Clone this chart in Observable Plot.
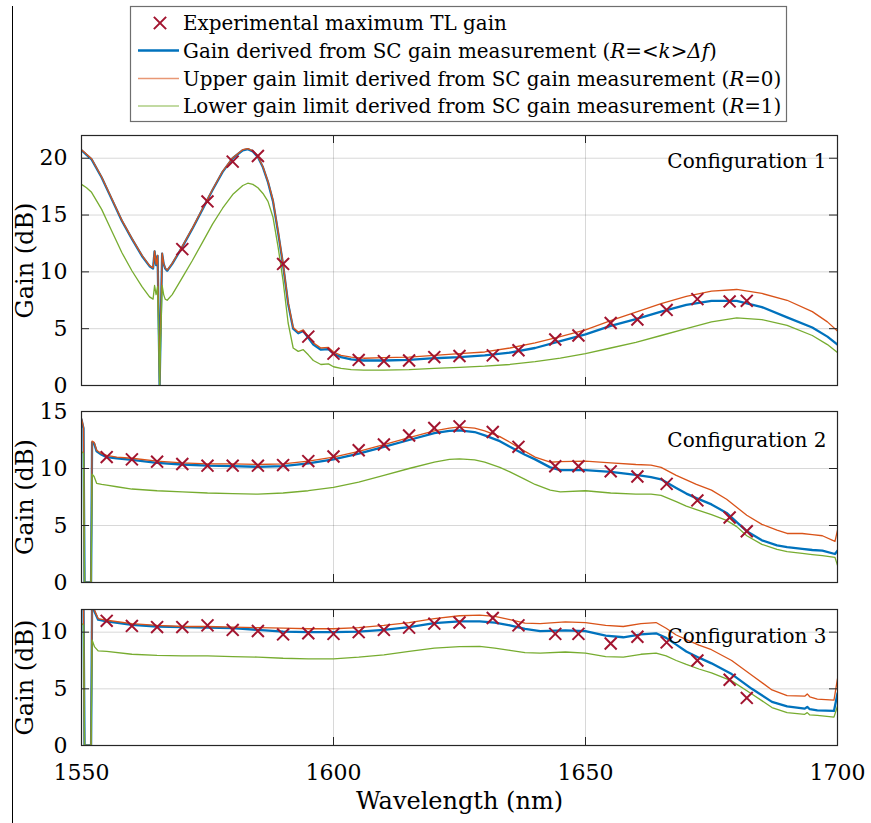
<!DOCTYPE html>
<html><head><meta charset="utf-8">
<script src="https://cdn.jsdelivr.net/npm/d3@7"></script>
<script src="https://cdn.jsdelivr.net/npm/@observablehq/plot@0.6"></script>
<style>
body{margin:0;background:#fff;}
#root{position:relative;width:871px;height:823px;overflow:hidden;background:#fff;font-family:"DejaVu Serif",serif;}
#root > *{position:absolute;}
svg{overflow:visible;}
</style></head><body><div id="root"></div>
<script>
// ---------- data ----------
const xTickLabels = [1550, 1600, 1650, 1700];
const seriesNames = [
  "Experimental maximum TL gain",
  "Gain derived from SC gain measurement",
  "Upper gain limit derived from SC gain measurement",
  "Lower gain limit derived from SC gain measurement"
];
const configNames = ["Configuration 1", "Configuration 2", "Configuration 3"];
const xTitle = "Wavelength (nm)";
const yTitle = "Gain (dB)";

// Experimental maximum TL gain (crosses)
const tlWl = [1555, 1560, 1565, 1570, 1575, 1580, 1585, 1590, 1595, 1600, 1605, 1610, 1615, 1620, 1625, 1631.6, 1636.7, 1644, 1648.6, 1655, 1660.3, 1666.1, 1672.2, 1678.6, 1682];
const tlGain1 = [null, null, null, 12.0, 16.2, 19.7, 20.2, 10.7, 4.3, 2.8, 2.25, 2.15, 2.2, 2.5, 2.6, 2.65, 3.1, 4.05, 4.4, 5.5, 5.8, 6.65, 7.6, 7.4, 7.45];
const tlGain2 = [11.0, 10.8, 10.6, 10.4, 10.25, 10.25, 10.25, 10.3, 10.65, 11.05, 11.6, 12.1, 12.9, 13.55, 13.7, 13.2, 11.9, 10.2, 10.2, 9.75, 9.3, 8.65, 7.2, 5.7, 4.5];
const tlGain3 = [11.0, 10.55, 10.45, 10.45, 10.6, 10.2, 10.1, 9.8, 9.9, 9.85, 10.0, 10.2, 10.4, 10.75, 10.85, 11.25, 10.6, 9.85, 9.85, 9.0, 9.6, 9.1, 7.5, 5.8, 4.2];

// Configuration 1
const wl1 = [1550, 1551, 1552, 1554, 1556, 1558, 1560, 1562, 1563.5, 1564.2,
  1564.5, 1564.8, 1565.1, 1565.3, 1565.5, 1565.7, 1566.0, 1566.3, 1566.6, 1567,
  1568, 1570, 1572, 1574, 1576, 1578, 1580, 1582, 1583, 1584,
  1585, 1586, 1587, 1588, 1589, 1590, 1591, 1592, 1593, 1594,
  1595, 1596, 1597.5, 1599, 1600, 1601.5, 1603.5, 1606, 1610, 1615,
  1620, 1625, 1630, 1635, 1640, 1645, 1650, 1655, 1660, 1665,
  1670, 1675, 1680, 1685, 1690, 1695, 1698, 1700];
const blue1 = [20.7, 20.3, 19.9, 18.3, 16.4, 14.5, 12.9, 11.4, 10.5, 10.3,
  11.8, 10.6, 11.4, 6.0, 0, 5.0, 11.6, 10.7, 10.3, 10.1,
  10.7, 12.2, 13.8, 15.5, 17.2, 18.8, 20.0, 20.7, 20.8, 20.6,
  20.1, 19.2, 17.9, 16.2, 13.5, 10.6, 7.2, 5.0, 4.6, 4.8,
  4.2, 3.6, 3.15, 3.2, 2.8, 2.5, 2.3, 2.2, 2.2, 2.25,
  2.4, 2.5, 2.65, 2.9, 3.3, 3.9, 4.5, 5.25, 5.85, 6.5,
  7.1, 7.45, 7.45, 6.9, 6.0, 5.1, 4.3, 3.6];
const orange1 = [20.75, 20.35, 19.95, 18.35, 16.45, 14.55, 12.95, 11.45, 10.55, 10.35,
  11.85, 10.65, 11.45, 6.0, 0, 5.0, 11.65, 10.75, 10.35, 10.15,
  10.75, 12.25, 13.85, 15.55, 17.25, 18.85, 20.05, 20.75, 20.85, 20.65,
  20.15, 19.25, 17.95, 16.3, 13.6, 10.7, 7.3, 5.1, 4.7, 4.9,
  4.3, 3.75, 3.3, 3.35, 2.95, 2.65, 2.5, 2.4, 2.45, 2.5,
  2.65, 2.8, 2.95, 3.3, 3.75, 4.3, 4.9, 5.7, 6.45, 7.2,
  7.85, 8.3, 8.45, 8.1, 7.5, 6.5, 5.6, 4.8];
const green1 = [17.7, 17.4, 17.0, 15.5, 13.6, 11.7, 10.1, 8.7, 7.8, 7.6,
  8.8, 8.0, 8.7, 4.5, 0, 4.0, 8.8, 8.0, 7.6, 7.5,
  8.0, 9.5, 11.0, 12.6, 14.2, 15.6, 16.8, 17.6, 17.8, 17.7,
  17.4, 16.9, 16.2, 14.8, 12.2, 9.2, 5.5, 3.3, 3.0, 3.15,
  2.7, 2.2, 1.85, 1.9, 1.65, 1.5, 1.4, 1.35, 1.35, 1.4,
  1.5, 1.6, 1.7, 1.85, 2.1, 2.4, 2.8, 3.3, 3.8, 4.4,
  5.0, 5.6, 5.95, 5.8, 5.3, 4.4, 3.6, 2.9];

// Configuration 2
const wl2 = [1550, 1550.4, 1550.6, 1551.9, 1552.1, 1552.5, 1553, 1554, 1555, 1557,
  1560, 1565, 1570, 1575, 1580, 1585, 1590, 1595, 1600, 1605,
  1610, 1615, 1620, 1623, 1625, 1628, 1630, 1633, 1635, 1638,
  1640, 1643, 1645, 1650, 1655, 1660, 1663, 1665, 1668, 1670,
  1672, 1675, 1678, 1680, 1682, 1685, 1688, 1690, 1693, 1695,
  1697, 1699.5, 1700];
const blue2 = [14.3, 13.5, 0, 0, 12.3, 12.2, 11.5, 11.2, 11.0, 10.9,
  10.75, 10.5, 10.35, 10.25, 10.2, 10.15, 10.2, 10.45, 10.8, 11.3,
  11.9, 12.5, 13.1, 13.3, 13.35, 13.2, 12.9, 12.4, 11.9, 11.2,
  10.8, 10.1, 9.85, 9.85, 9.7, 9.45, 9.25, 9.05, 8.3, 7.8,
  7.4, 6.85, 6.1, 5.3, 4.5, 3.7, 3.25, 3.1, 2.95, 2.85,
  2.8, 2.5, 2.8];
const orange2 = [14.4, 13.6, 0, 0, 12.4, 12.3, 11.6, 11.3, 11.15, 11.0,
  10.9, 10.65, 10.5, 10.4, 10.4, 10.35, 10.4, 10.65, 11.0, 11.5,
  12.1, 12.7, 13.3, 13.55, 13.65, 13.55, 13.3, 12.8, 12.3, 11.5,
  11.0, 10.55, 10.6, 10.65, 10.5, 10.35, 10.3, 10.1, 9.4, 9.0,
  8.6, 8.1, 7.3, 6.6, 5.9, 5.1, 4.6, 4.3, 4.3, 4.2,
  4.1, 3.6, 4.6];
const green2 = [11.5, 11.3, 0, 0, 9.5, 9.3, 8.7, 8.6, 8.55, 8.4,
  8.2, 8.05, 7.95, 7.85, 7.8, 7.75, 7.85, 8.05, 8.35, 8.8,
  9.4, 10.0, 10.55, 10.8, 10.85, 10.75, 10.55, 10.1, 9.7, 9.05,
  8.6, 8.1, 7.95, 8.05, 7.85, 7.75, 7.75, 7.65, 7.1, 6.7,
  6.4, 5.95, 5.45, 4.9, 4.1, 3.35, 2.9, 2.7, 2.55, 2.45,
  2.35, 2.2, 1.5];

// Configuration 3
const wl3 = [1550, 1550.4, 1550.6, 1551.9, 1552.1, 1552.6, 1553.3, 1555, 1560, 1565,
  1570, 1575, 1580, 1585, 1590, 1595, 1600, 1605, 1610, 1615,
  1620, 1625, 1629, 1632, 1635, 1638, 1641, 1646, 1650, 1654,
  1657.5, 1661, 1664, 1666, 1668, 1670, 1672.5, 1675, 1679, 1683,
  1687, 1690, 1693.5, 1694, 1694.5, 1696, 1699.3, 1700];
const blue3 = [12.5, 12.5, 0, 0, 12.5, 11.8, 11.1, 10.95, 10.65, 10.5,
  10.45, 10.4, 10.35, 10.2, 10.05, 10.0, 10.0, 10.05, 10.2, 10.45,
  10.8, 10.95, 10.95, 10.85, 10.6, 10.3, 10.1, 10.15, 10.1, 9.7,
  9.55, 9.8, 9.9, 9.5, 8.9, 8.3, 7.75, 7.25, 6.3, 5.0,
  3.85, 3.45, 3.25, 3.4, 3.2, 3.1, 3.05, 4.6];
const orange3 = [12.5, 12.5, 0, 0, 12.5, 11.9, 11.2, 11.05, 10.75, 10.6,
  10.5, 10.5, 10.45, 10.4, 10.35, 10.3, 10.3, 10.4, 10.6, 10.85,
  11.2, 11.45, 11.5, 11.4, 11.1, 10.8, 10.75, 10.9, 10.85, 10.6,
  10.5, 10.75, 10.85, 10.35, 9.75, 9.35, 8.85, 8.45, 7.5, 6.2,
  4.9, 4.4, 4.35, 4.55, 4.3, 4.1, 4.0, 5.9];
const green3 = [10.8, 10.6, 0, 0, 9.3, 8.7, 8.35, 8.3, 8.05, 7.95,
  7.9, 7.9, 7.85, 7.8, 7.7, 7.65, 7.65, 7.8, 8.0, 8.3,
  8.6, 8.72, 8.75, 8.6, 8.4, 8.2, 8.15, 8.25, 8.15, 7.85,
  7.8, 8.05, 8.15, 7.9, 7.5, 7.15, 6.75, 6.4, 5.7, 4.55,
  3.35, 2.9, 2.75, 2.9, 2.7, 2.65, 2.5, 3.5];

// ---------- styling ----------
const BLUE = "#0072BD", ORANGE = "#D95319", GREEN = "#77AC30", RED = "#A2142F", AXC = "#262626";
const W = 871, ML = 81, MR = 34;
const root = document.getElementById("root");

function rows(wl, b, o, g) { return wl.map((w, i) => ({w, blue: b[i], orange: o[i], green: g[i]})); }
function crosses(gains) { return tlWl.map((w, i) => ({w, g: gains[i]})).filter(d => d.g != null); }

function panel({data, tl, ymax, yticks, name, nameDy, top, innerH, mt, mb, xAxis}) {
  const innerW = W - ML - MR;
  const marks = [
    Plot.gridX([1600, 1650], {x: d => d, stroke: AXC, strokeOpacity: 0.18}),
    Plot.gridY(yticks, {y: d => d, stroke: AXC, strokeOpacity: 0.18}),
    Plot.line(data, {x: "w", y: "blue", stroke: BLUE, strokeWidth: 2.3, clip: true}),
    Plot.line(data, {x: "w", y: "orange", stroke: ORANGE, strokeWidth: 1.3, clip: true}),
    Plot.line(data, {x: "w", y: "green", stroke: GREEN, strokeWidth: 1.3, clip: true}),
    Plot.dot(tl, {x: "w", y: "g", symbol: "times", r: 5.5, stroke: RED, strokeWidth: 2}),
    Plot.tickX(xTickLabels, {x: d => d, stroke: AXC, insetTop: innerH - 8}),
    Plot.tickX(xTickLabels, {x: d => d, stroke: AXC, insetBottom: innerH - 8}),
    Plot.tickY(yticks, {y: d => d, stroke: AXC, insetRight: innerW - 8}),
    Plot.tickY(yticks, {y: d => d, stroke: AXC, insetLeft: innerW - 8}),
    Plot.frame({stroke: AXC, strokeWidth: 1.2}),
    Plot.text([name], {frameAnchor: "top-right", dx: -11, dy: nameDy, fontSize: 20, fill: "#000", textAnchor: "end"}),
    Plot.axisY(yticks, {tickSize: 0, tickPadding: 14, fontSize: 22, fill: "#000", label: null, tickFormat: d => String(d)}),
    Plot.text([yTitle], {frameAnchor: "left", dx: -56, rotate: -90, textAnchor: "middle", fontSize: 24, fill: "#000"})
  ];
  if (xAxis) {
    marks.push(Plot.axisX(xTickLabels, {tickSize: 0, tickPadding: 19, fontSize: 22, fill: "#000", label: null, tickFormat: d => String(d)}));
    marks.push(Plot.text([xTitle], {frameAnchor: "bottom", dy: 63, fontSize: 24, fill: "#000"}));
  }
  const svg = Plot.plot({
    width: W, height: mt + innerH + mb,
    marginLeft: ML, marginRight: MR, marginTop: mt, marginBottom: mb,
    x: {domain: [1550, 1700], axis: xAxis ? undefined : null},
    y: {domain: [0, ymax]},
    style: {fontFamily: "DejaVu Serif", fontSize: "22px", color: "#000", background: "transparent"},
    marks
  });
  svg.style.left = "0px";
  svg.style.top = (top - mt) + "px";
  root.appendChild(svg);
}

panel({data: rows(wl1, blue1, orange1, green1), tl: crosses(tlGain1), ymax: 22, yticks: [0, 5, 10, 15, 20],
  name: configNames[0], nameDy: 18, top: 135, innerH: 250, mt: 8, mb: 8});
panel({data: rows(wl2, blue2, orange2, green2), tl: crosses(tlGain2), ymax: 15, yticks: [0, 5, 10, 15],
  name: configNames[1], nameDy: 21, top: 411, innerH: 171, mt: 8, mb: 8});
panel({data: rows(wl3, blue3, orange3, green3), tl: crosses(tlGain3), ymax: 12, yticks: [0, 5, 10],
  name: configNames[2], nameDy: 19, top: 609, innerH: 136, mt: 8, mb: 78, xAxis: true});

// left rule
const rule = document.createElement("div");
Object.assign(rule.style, {left: "11.5px", top: "6px", width: "1.3px", height: "817px", background: "#000"});
root.appendChild(rule);

// legend
const lg = d3.create("svg").attr("width", 658).attr("height", 117)
  .style("left", "130px").style("top", "6px").style("font-family", "DejaVu Serif").style("font-size", "19.9px");
lg.append("rect").attr("x", 0.5).attr("y", 0.5).attr("width", 656).attr("height", 115).attr("fill", "#fff").attr("stroke", "#6e6e6e").attr("stroke-width", 1.2);
const rowY = [17, 44.5, 72.5, 100];
lg.append("path").attr("d", d3.symbol(d3.symbolTimes, 100)()).attr("transform", `translate(30,${rowY[0]})`).attr("stroke", RED).attr("stroke-width", 2).attr("fill", "none");
[[BLUE, 2.3], [ORANGE, 1.3], [GREEN, 1.3]].forEach(([c, sw], i) => {
  lg.append("line").attr("x1", 8).attr("x2", 49).attr("y1", rowY[i + 1]).attr("y2", rowY[i + 1]).attr("stroke", c).attr("stroke-width", sw).attr("stroke-opacity", i ? 0.6 : 1);
});
const suffix = [null, [["(", 0], ["R", 1], ["=<", 0], ["k", 1], [">", 0], ["Δf", 1], [")", 0]], [["(", 0], ["R", 1], ["=0)", 0]], [["(", 0], ["R", 1], ["=1)", 0]]];
seriesNames.forEach((s, i) => {
  const t = lg.append("text").attr("x", 53).attr("y", rowY[i] + 7).attr("fill", "#000");
  t.append("tspan").text(s + (suffix[i] ? " " : ""));
  if (suffix[i]) suffix[i].forEach(([txt, it]) => t.append("tspan").text(txt).attr("font-style", it ? "italic" : "normal"));
});
root.appendChild(lg.node());
</script></body></html>
